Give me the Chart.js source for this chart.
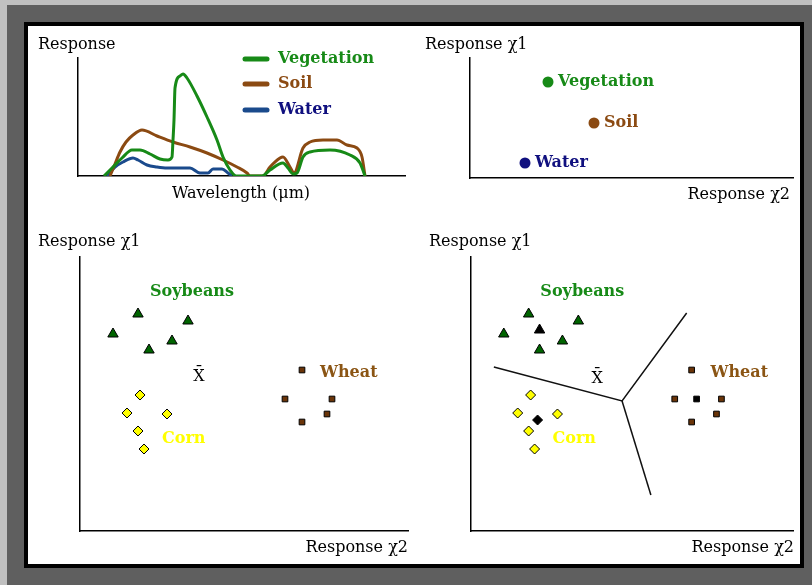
<!DOCTYPE html>
<html lang="en">
<head>
<meta charset="UTF-8">
<title>Spectral response and classification</title>
<script src="https://cdn.jsdelivr.net/npm/chart.js"></script>
<style>
  body { margin: 0; width: 812px; height: 585px; background: #5f5f5f; position: relative; overflow: hidden; }
  .strip-top { position: absolute; left: 0; top: 0; width: 812px; height: 5px; background: #c0c0c0; }
  .strip-left { position: absolute; left: 0; top: 0; width: 7px; height: 585px; background: #c0c0c0; }
  .paper { position: absolute; left: 24px; top: 22px; width: 772px; height: 538px; border: 4px solid #000; background: #fff; }
  canvas { position: absolute; }
</style>
</head>
<body>
<div class="strip-top"></div>
<div class="strip-left"></div>
<div class="paper"></div>
<canvas id="spectra" style="left:28px;top:26px" width="392" height="189"></canvas>
<canvas id="feature" style="left:420px;top:26px" width="380" height="189"></canvas>
<canvas id="classes" style="left:28px;top:215px" width="392" height="349"></canvas>
<canvas id="decision" style="left:420px;top:215px" width="380" height="349"></canvas>

<script>
// spectral curves (wavelength, response) - arbitrary units
const vegWave = [26, 34, 44, 54, 62, 72, 82, 90, 94, 95, 96, 97, 102, 105, 109, 119, 129, 139, 145, 152, 158, 184, 192, 205, 210, 215, 219, 225, 232, 252, 272, 282, 287];
const vegResp = [0, 8, 18, 26, 26, 22, 17, 16, 19, 36, 56, 88, 100, 102, 98, 80, 59, 36, 19, 6, 0, 0, 6, 13, 8, 2, 3, 19, 24, 26, 21, 13, 0];
const soilWave = [32, 37, 42, 48, 55, 64, 79, 95, 112, 129, 145, 159, 169, 172, 185, 192, 202, 205, 212, 216, 225, 232, 245, 259, 269, 279, 284, 287];
const soilResp = [0, 12, 24, 34, 41, 46, 40, 34, 29, 23, 16, 9, 3, 0, 0, 9, 18, 19, 9, 3, 28, 34, 36, 36, 31, 28, 19, 0];
const waterWave = [29, 37, 45, 55, 60, 69, 79, 89, 112, 122, 130, 135, 144, 150, 154];
const waterResp = [0, 9, 14, 18, 16, 11, 9, 8, 8, 3, 3, 7, 7, 3, 0];

// two-band feature space
const featureNames = ['Vegetation', 'Soil', 'Water'];
const featureX2 = [78, 124, 55];
const featureX1 = [96, 55, 15];

// training samples (Response x2, Response x1)
const soyX2 = [58, 108, 33, 92, 69];
const soyX1 = [217, 210, 197, 190, 181];
const cornX2 = [60, 47, 87, 58, 64];
const cornX1 = [136, 118, 117, 100, 82];
const wheatX2 = [222, 205, 252, 247, 222];
const wheatX1 = [161, 132, 132, 117, 109];
const meanLeft = [119, 154];
const meanRight = [127, 152];

// samples classified in the right panel: soybean, corn, wheat
const unknownX2 = [69, 67, 227];
const unknownX1 = [201, 111, 132];

// decision boundaries meeting at one junction
const boundaryA = [[23, 164], [152, 130], [217, 218]];
const boundaryB = [[152, 130], [181, 36]];

const GREEN = '#178a17', BROWN = '#8b4a12', NAVY = '#10107f';
const SERIF = "'DejaVu Serif', 'Liberation Serif', serif";

function pts(xs, ys) { return xs.map((v, i) => ({ x: v, y: ys[i] })); }
function pairs(arr) { return arr.map(p => ({ x: p[0], y: p[1] })); }

// draws axis captions, legends and class names
const textPlugin = {
  id: 'texts',
  afterDraw(chart, args, opts) {
    const ctx = chart.ctx;
    const xs = chart.scales.x, ys = chart.scales.y;
    (opts.items || []).forEach(t => {
      let px = t.px, py = t.py;
      if (t.x !== undefined) {
        px = xs.getPixelForValue(t.x) + (t.dx || 0);
        py = ys.getPixelForValue(t.y) + (t.dy || 0);
      }
      ctx.save();
      if (t.swatch) {
        ctx.strokeStyle = t.swatch;
        ctx.lineWidth = 5;
        ctx.lineCap = 'round';
        ctx.beginPath();
        ctx.moveTo(px - 33, py);
        ctx.lineTo(px - 11, py);
        ctx.stroke();
      }
      ctx.font = t.font;
      ctx.fillStyle = t.color || '#000';
      ctx.textAlign = t.align || 'left';
      ctx.textBaseline = t.baseline || 'middle';
      ctx.fillText(t.text, px, py);
      ctx.restore();
    });
  }
};

function axes(xmax, ymax) {
  const ax = (max) => ({
    type: 'linear', min: 0, max: max,
    grid: { display: false, drawTicks: false },
    ticks: { display: false },
    border: { display: true, color: '#000', width: 1.5 }
  });
  return { x: ax(xmax), y: ax(ymax) };
}

function baseOptions(pad, xmax, ymax, items) {
  return {
    responsive: false,
    animation: false,
    events: [],
    layout: { padding: pad },
    scales: axes(xmax, ymax),
    plugins: { legend: { display: false }, tooltip: { enabled: false }, texts: { items: items } }
  };
}

const REG = '16px ' + SERIF;
const BOLD = 'bold 16px ' + SERIF;

// --- spectral response curves ---
function curve(label, xs, ys, color) {
  return { type: 'line', label: label, data: pts(xs, ys), borderColor: color, borderWidth: 3,
    pointRadius: 0, cubicInterpolationMode: 'monotone', fill: false };
}
new Chart(document.getElementById('spectra'), {
  type: 'scatter',
  data: { datasets: [
    curve('Vegetation', vegWave, vegResp, GREEN),
    curve('Soil', soilWave, soilResp, BROWN),
    curve('Water', waterWave, waterResp, '#1a4a8c')
  ] },
  options: baseOptions({ left: 50, right: 15, top: 32, bottom: 39 }, 327, 118, [
    { text: 'Response', px: 10, py: 23, font: REG, baseline: 'alphabetic' },
    { text: 'Wavelength (\u03bcm)', px: 213, py: 172, font: REG, align: 'center', baseline: 'alphabetic' },
    { text: 'Vegetation', px: 250, py: 33, font: BOLD, color: GREEN, swatch: GREEN },
    { text: 'Soil', px: 250, py: 58, font: BOLD, color: BROWN, swatch: BROWN },
    { text: 'Water', px: 250, py: 84, font: BOLD, color: NAVY, swatch: '#1a4a8c' }
  ]),
  plugins: [textPlugin]
});

// --- feature space ---
const featureColors = [GREEN, BROWN, NAVY];
new Chart(document.getElementById('feature'), {
  type: 'scatter',
  data: { datasets: [{
    data: pts(featureX2, featureX1),
    pointRadius: 5.5, pointBackgroundColor: featureColors, pointBorderWidth: 0
  }] },
  options: baseOptions({ left: 50, right: 7, top: 32, bottom: 37 }, 323, 120, [
    { text: 'Response \u03c71', px: 5, py: 23, font: REG, baseline: 'alphabetic' },
    { text: 'Response \u03c72', px: 370, py: 173, font: REG, align: 'right', baseline: 'alphabetic' }
  ].concat(featureNames.map((n, i) => ({
    text: n, x: featureX2[i], y: featureX1[i], dx: 10, dy: 0, font: BOLD, color: featureColors[i]
  })))),
  plugins: [textPlugin]
});

// --- training classes ---
function samples(xs, ys, style, fill, r) {
  return { data: pts(xs, ys), pointStyle: style, pointRadius: r, pointBackgroundColor: fill,
    pointBorderColor: '#000', pointBorderWidth: 1 };
}
function classLabels(mean, wheatX) {
  return [
    { text: 'Soybeans', x: 112, y: 239, font: BOLD, color: GREEN, align: 'center' },
    { text: 'Wheat', x: wheatX, y: 158, font: BOLD, color: '#8b5514' },
    { text: 'Corn', x: 82, y: 92, font: BOLD, color: '#ffff00' },
    { text: 'X\u0304', x: mean[0], y: mean[1], font: REG, align: 'center' }
  ];
}
new Chart(document.getElementById('classes'), {
  type: 'scatter',
  data: { datasets: [
    samples(soyX2, soyX1, 'triangle', '#006400', 6),
    samples(cornX2, cornX1, 'rectRot', '#ffff00', 5),
    samples(wheatX2, wheatX1, 'rect', '#6a3408', 4)
  ] },
  options: baseOptions({ left: 52, right: 12, top: 42, bottom: 33 }, 328, 274, [
    { text: 'Response \u03c71', px: 10, py: 31, font: REG, baseline: 'alphabetic' },
    { text: 'Response \u03c72', px: 380, py: 337, font: REG, align: 'right', baseline: 'alphabetic' }
  ].concat(classLabels(meanLeft, 240))),
  plugins: [textPlugin]
});

// --- decision boundaries ---
function boundary(arr) {
  return { type: 'line', data: pairs(arr), borderColor: '#111', borderWidth: 1.5, pointRadius: 0, tension: 0 };
}
new Chart(document.getElementById('decision'), {
  type: 'scatter',
  data: { datasets: [
    samples(soyX2, soyX1, 'triangle', '#006400', 6),
    samples(cornX2, cornX1, 'rectRot', '#ffff00', 5),
    samples(wheatX2, wheatX1, 'rect', '#6a3408', 4),
    samples([unknownX2[0]], [unknownX1[0]], 'triangle', '#000', 6),
    samples([unknownX2[1]], [unknownX1[1]], 'rectRot', '#000', 5),
    samples([unknownX2[2]], [unknownX1[2]], 'rect', '#000', 4),
    boundary(boundaryA),
    boundary(boundaryB)
  ] },
  options: baseOptions({ left: 51, right: 5, top: 42, bottom: 33 }, 324, 274, [
    { text: 'Response \u03c71', px: 9, py: 31, font: REG, baseline: 'alphabetic' },
    { text: 'Response \u03c72', px: 374, py: 337, font: REG, align: 'right', baseline: 'alphabetic' }
  ].concat(classLabels(meanRight, 241))),
  plugins: [textPlugin]
});
</script>
</body>
</html>
